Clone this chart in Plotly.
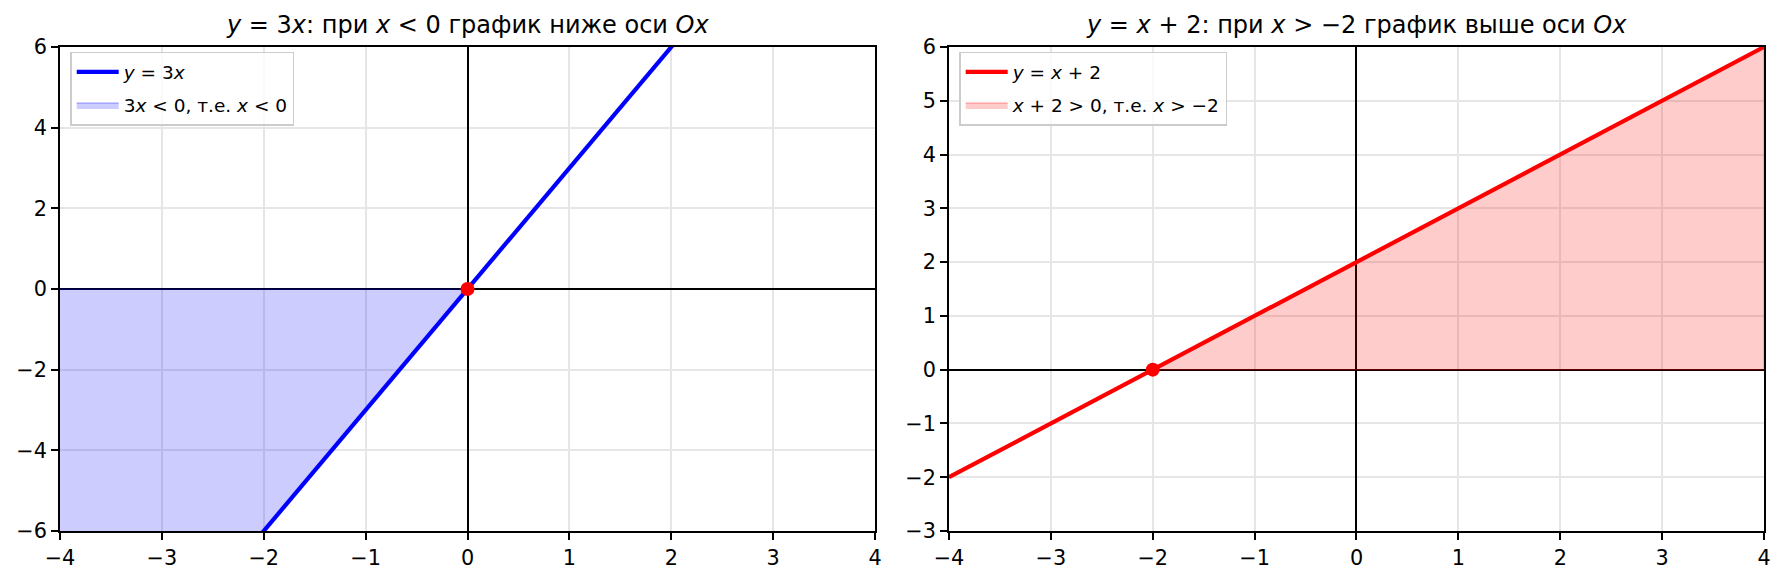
import plotly.graph_objects as go
from plotly.subplots import make_subplots

# ---- data ----
x_vals = [-4, -3, -2, -1, 0, 1, 2, 3, 4]
y_left = [-12, -9, -6, -3, 0, 3, 6, 9, 12]          # y = 3x
y_right = [-2, -1, 0, 1, 2, 3, 4, 5, 6]             # y = x + 2

fill_left_x = [-4, -3, -2, -1, 0]                   # x < 0
fill_left_y = [-12, -9, -6, -3, 0]
fill_right_x = [-2, -1, 0, 1, 2, 3, 4]              # x > -2
fill_right_y = [0, 1, 2, 3, 4, 5, 6]

root_left = ([0], [0])
root_right = ([-2], [0])

x_ticks = [-4, -3, -2, -1, 0, 1, 2, 3, 4]
y_ticks_left = [-6, -4, -2, 0, 2, 4, 6]
y_ticks_right = [-3, -2, -1, 0, 1, 2, 3, 4, 5, 6]

titles = [
    "<i>y</i> = 3<i>x</i>: при <i>x</i> &lt; 0 график ниже оси <i>Ox</i>",
    "<i>y</i> = <i>x</i> + 2: при <i>x</i> &gt; −2 график выше оси <i>Ox</i>",
]

FONT = "DejaVu Sans"


def region(xs, ys):
    # closed polygon between the curve and y = 0
    return xs + [xs[-1], xs[0]], ys + [0, 0]


fig = make_subplots(rows=1, cols=2, horizontal_spacing=0.0434)

# left panel
px, py = region(fill_left_x, fill_left_y)
fig.add_trace(go.Scatter(x=px, y=py, mode="lines", fill="toself",
                         fillcolor="rgba(0,0,255,0.2)", line=dict(color="rgba(0,0,255,0.25)", width=1.5),
                         name="3<i>x</i> &lt; 0, т.е. <i>x</i> &lt; 0", legend="legend", legendrank=2,
                         legendgroup="a2"),
              row=1, col=1)
fig.add_trace(go.Scatter(x=x_vals, y=y_left, mode="lines", line=dict(color="#0000ff", width=4.2),
                         name="<i>y</i> = 3<i>x</i>", legend="legend", legendrank=1, legendgroup="a1"),
              row=1, col=1)
fig.add_trace(go.Scatter(x=root_left[0], y=root_left[1], mode="markers",
                         marker=dict(color="#ff0000", size=14), showlegend=False),
              row=1, col=1)

# right panel
px, py = region(fill_right_x, fill_right_y)
fig.add_trace(go.Scatter(x=px, y=py, mode="lines", fill="toself",
                         fillcolor="rgba(255,0,0,0.2)", line=dict(color="rgba(255,0,0,0.25)", width=1.5),
                         name="<i>x</i> + 2 &gt; 0, т.е. <i>x</i> &gt; −2", legend="legend2", legendrank=2,
                         legendgroup="b2"),
              row=1, col=2)
fig.add_trace(go.Scatter(x=x_vals, y=y_right, mode="lines", line=dict(color="#ff0000", width=4.2),
                         name="<i>y</i> = <i>x</i> + 2", legend="legend2", legendrank=1, legendgroup="b1"),
              row=1, col=2)
fig.add_trace(go.Scatter(x=root_right[0], y=root_right[1], mode="markers",
                         marker=dict(color="#ff0000", size=14), showlegend=False),
              row=1, col=2)

axis_common = dict(
    showline=True, mirror=True, linecolor="#000000", linewidth=1.6,
    ticks="outside", ticklen=7, tickwidth=1.6, tickcolor="#000000",
    tickfont=dict(family=FONT, size=20.8, color="#000000"),
    showgrid=True, gridcolor="#e6e6e6", gridwidth=1.5,
    zeroline=True, zerolinecolor="#000000", zerolinewidth=1.5,
)

fig.update_xaxes(range=[-4, 4], tickvals=x_ticks, **axis_common)
fig.update_yaxes(range=[-6, 6], tickvals=y_ticks_left, row=1, col=1, **axis_common)
fig.update_yaxes(range=[-3, 6], tickvals=y_ticks_right, row=1, col=2, **axis_common)

# titles
dom1 = fig.layout.xaxis.domain
dom2 = fig.layout.xaxis2.domain
for t, d in zip(titles, [dom1, dom2]):
    fig.add_annotation(text=t, x=(d[0] + d[1]) / 2, y=1, xref="paper", yref="paper",
                       xanchor="center", yanchor="bottom", yshift=6, showarrow=False,
                       font=dict(family=FONT, size=24, color="#000000"))

legend_style = dict(bgcolor="rgba(255,255,255,0.8)", bordercolor="#cccccc", borderwidth=1.5,
                    font=dict(family=FONT, size=18.5, color="#000000"),
                    xanchor="left", yanchor="top", y=0.99, itemwidth=42, tracegroupgap=6)

fig.update_layout(
    width=1785, height=581,
    margin=dict(l=60, r=21, t=47, b=50),
    paper_bgcolor="white", plot_bgcolor="white",
    font=dict(family=FONT, color="#000000"),
    legend=dict(x=dom1[0] + 0.006, **legend_style),
    legend2=dict(x=dom2[0] + 0.006, **legend_style),
)

fig.write_html("out.html", config={"displayModeBar": False},
               post_script="document.body.style.margin='0';")
